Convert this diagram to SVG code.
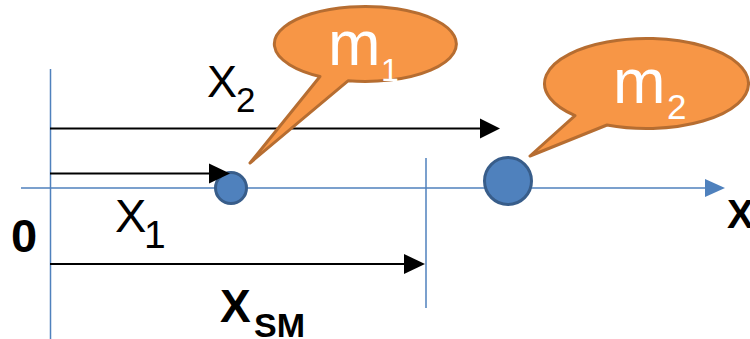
<svg xmlns="http://www.w3.org/2000/svg" width="750" height="339" viewBox="0 0 750 339">
<style>
.ax{stroke:#4F81BD;stroke-width:1.5;fill:none}
.ar{stroke:#000;stroke-width:2;fill:none}
.ah{fill:#000}
.mass{fill:#4F81BD;stroke:#385D8A;stroke-width:3}
.bub{fill:#F79646;stroke:#B66D31;stroke-width:3;stroke-linejoin:round}
.t{font-family:"Liberation Sans",Arial,sans-serif;fill:#000}
.b{font-weight:bold}
.w{fill:#fff}
</style>
<rect width="750" height="339" fill="#fff"/>
<g id="connectors">
<line class="ax" x1="50.5" y1="69" x2="50.5" y2="339"/>
<line class="ax" x1="426" y1="158" x2="426" y2="308"/>
<line class="ax" x1="21" y1="188" x2="707" y2="188"/>
<polygon points="725,188 705,179 705,197" fill="#4F81BD"/>
<line class="ar" x1="50" y1="128.5" x2="482" y2="128.5"/>
<polygon class="ah" points="500,128.5 480,118.5 480,138.5"/>
<line class="ar" x1="50" y1="264" x2="406" y2="264"/>
<polygon class="ah" points="425,264 404,254 404,274"/>
</g>
<g id="mass1">
<circle class="mass" cx="231" cy="188" r="15.5"/>
</g>
<g id="mass2">
<circle class="mass" cx="508" cy="181" r="23.5"/>
</g>
<g id="arrow-x1">
<line class="ar" x1="50" y1="173.5" x2="211" y2="173.5"/>
<polygon class="ah" points="230,173.5 209,163.5 209,183.5"/>
</g>
<g id="callout-m1">
<path class="bub" d="M320,76.5 L250,163 L348,80.8 A91,37.5 0 1 0 320,76.5 Z"/>
<text class="t w" x="328" y="65" font-size="63">m</text>
<text class="t w" x="381" y="81" font-size="32">1</text>
</g>
<g id="callout-m2">
<path class="bub" d="M575,115.6 L530,156 L607,125 A102,45 0 1 0 575,115.6 Z"/>
<text class="t w" x="613" y="103" font-size="63">m</text>
<text class="t w" x="667" y="119" font-size="35">2</text>
</g>
<g id="labels">
<text class="t" x="207" y="97" font-size="45">X</text>
<text class="t" x="236" y="112" font-size="35">2</text>
<text class="t" x="115" y="232" font-size="47">X</text>
<text class="t" x="144" y="248" font-size="39">1</text>
<text class="t b" x="11" y="252" font-size="47">0</text>
<text class="t b" x="220" y="322" font-size="46">X</text>
<text class="t b" x="254" y="337" font-size="34">SM</text>
<text class="t b" x="727" y="228" font-size="40">X</text>
</g>
</svg>
